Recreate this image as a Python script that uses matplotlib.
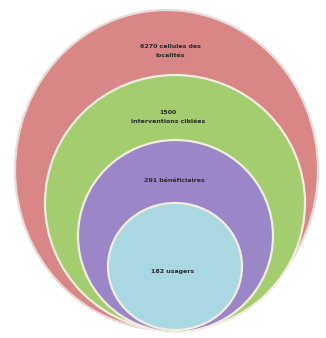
import matplotlib
matplotlib.use("Agg")
import matplotlib.pyplot as plt
from matplotlib.patches import Ellipse

# Data
labels = ["6270 cellules des\nlocalités", "1500\ninterventions ciblées", "291 bénéficiaires", "182 usagers"]
colors = ["#d98686", "#a4cd70", "#9b86c8", "#a9d8e2"]

# Geometry (pixel-like coordinates, y downward)
centers = [(166.5, 170), (175, 203), (175.5, 236), (175, 266.5)]
sizes = [(303, 320), (260, 256), (195, 192), (134, 127)]
text_pos = [(170, 51), (168, 117), (174, 180), (173, 272)]

fig = plt.figure(figsize=(3.26, 3.38), dpi=100)
ax = fig.add_axes([0, 0, 1, 1])
ax.set_xlim(0, 326)
ax.set_ylim(338, 0)
ax.axis("off")

for i, (c, s, col) in enumerate(zip(centers, sizes, colors)):
    ec = "#f3ece0" if i > 0 else "#eadada"
    ax.add_patch(Ellipse(c, s[0], s[1], facecolor=col, edgecolor=ec, lw=1.6, zorder=i + 1))

for lab, (x, y) in zip(labels, text_pos):
    ax.text(x, y, lab, ha="center", va="center", fontsize=4.5, fontweight="bold",
            color="#2a2a2a", linespacing=1.8, zorder=10)

fig.savefig("out.png", dpi=100)
